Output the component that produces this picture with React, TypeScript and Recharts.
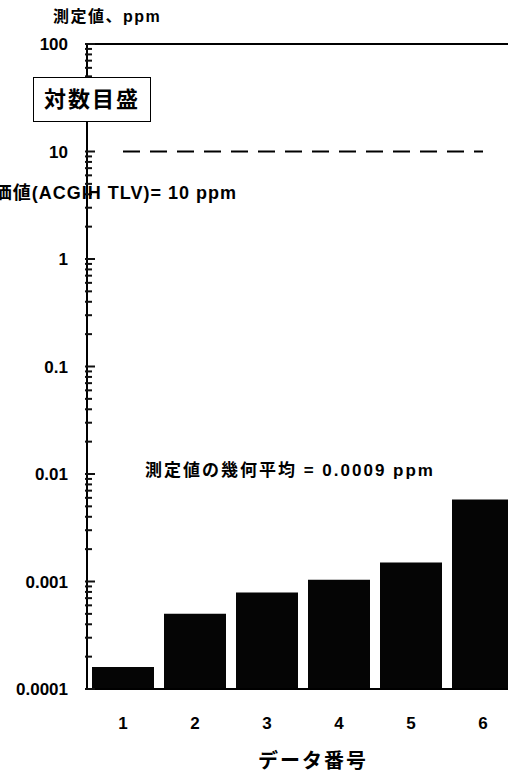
import React from 'react';
import { ComposedChart, Bar, Line, XAxis, YAxis, ReferenceLine } from 'recharts';

// ---- data ----
const categories = ['1', '2', '3', '4', '5', '6'];
const measured = [0.00016, 0.0005, 0.00079, 0.00104, 0.0015, 0.0058];
const tlvValues = [10, 10, 10, 10, 10, 10];
const majorTicks = [0.0001, 0.001, 0.01, 0.1, 1, 10, 100];
const majorLabels = ['0.0001', '0.001', '0.01', '0.1', '1', '10', '100'];
const minorMultipliers = [2, 3, 4, 5, 6, 7, 8, 9];

const data = categories.map((c, i) => ({ cat: c, value: measured[i], tlv: tlvValues[i] }));

const allTicks: number[] = [];
majorTicks.forEach((m, i) => {
  allTicks.push(m);
  if (i < majorTicks.length - 1) minorMultipliers.forEach((k) => allTicks.push(m * k));
});

const FONT = '"Liberation Sans", "Noto Sans CJK JP", sans-serif';
const TICK_SIZE = 6;

function YTick(props: any) {
  const { x, y, payload } = props;
  const v = Number(payload.value);
  const idx = majorTicks.findIndex((m) => Math.abs(Math.log10(m) - Math.log10(v)) < 1e-6);
  const major = idx >= 0;
  const axisX = Number(x) + TICK_SIZE;
  const yy = Number(y);
  return (
    <g>
      <path
        d={`M${axisX - 2},${yy}H${axisX + (major ? 8 : 5)}`}
        stroke="#111111"
        strokeWidth={2}
      />
      {major && (
        <text
          x={axisX - 19}
          y={yy}
          dy="0.36em"
          textAnchor="end"
          fontFamily={FONT}
          fontWeight="bold"
          fontSize={17}
          fill="#000"
        >
          {majorLabels[idx]}
        </text>
      )}
    </g>
  );
}

const abs = (style: React.CSSProperties): React.CSSProperties => ({
  position: 'absolute',
  whiteSpace: 'nowrap',
  fontFamily: FONT,
  fontWeight: 'bold',
  color: '#000',
  lineHeight: 1,
  ...style,
});

export default function App() {
  return (
    <div
      style={{
        position: 'absolute',
        left: 0,
        top: 0,
        width: 508,
        height: 772,
        overflow: 'hidden',
        background: '#fff',
      }}
    >
      <ComposedChart
        width={529}
        height={772}
        data={data}
        margin={{ top: 44, right: 10, left: 0, bottom: 0 }}
      >
        <XAxis
          dataKey="cat"
          height={83}
          interval={0}
          tickLine={false}
          tickSize={0}
          tickMargin={28}
          axisLine={{ stroke: '#000', strokeWidth: 2 }}
          tick={{ fill: '#000', fontSize: 17, fontWeight: 'bold', fontFamily: FONT }}
        />
        <YAxis
          type="number"
          scale="log"
          domain={[0.0001, 100]}
          allowDataOverflow
          ticks={allTicks}
          interval={0}
          width={87}
          tickSize={TICK_SIZE}
          tickMargin={0}
          tickLine={{ stroke: 'transparent', strokeWidth: 1 }}
          axisLine={{ stroke: '#000', strokeWidth: 2 }}
          tick={(p: any) => <YTick {...p} />}
        />
        <ReferenceLine y={100} stroke="#000" strokeWidth={2} />
        <Bar dataKey="value" fill="#050505" barSize={62} isAnimationActive={false} />
        <Line
          dataKey="tlv"
          stroke="#000"
          strokeWidth={2}
          strokeDasharray="17 10"
          dot={false}
          activeDot={false}
          isAnimationActive={false}
        />
      </ComposedChart>

      <div style={abs({ left: 53, top: 9, fontSize: 16, letterSpacing: 1.5 })}>測定値、ppm</div>

      <div
        style={abs({
          left: 33,
          top: 77,
          width: 118,
          height: 45,
          boxSizing: 'border-box',
          border: '1.5px solid #000',
          background: '#fff',
          display: 'flex',
          alignItems: 'center',
          justifyContent: 'center',
          fontSize: 22,
          letterSpacing: 2,
        })}
      >
        対数目盛
      </div>

      <div style={abs({ right: 508 - 237, top: 184, fontSize: 18, letterSpacing: 1 })}>
        評価値(ACGIH TLV)= 10 ppm
      </div>

      <div style={abs({ left: 145, top: 462, fontSize: 17, letterSpacing: 2 })}>
        測定値の幾何平均 = 0.0009 ppm
      </div>

      <div style={abs({ left: 258, top: 751, fontSize: 20, letterSpacing: 2 })}>データ番号</div>
    </div>
  );
}
